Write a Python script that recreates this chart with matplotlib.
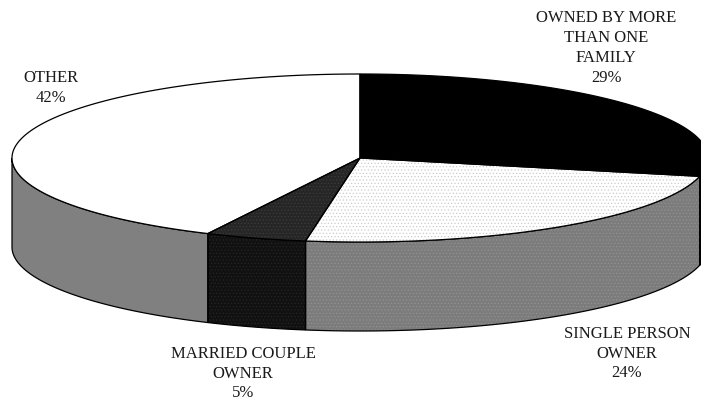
import numpy as np
import matplotlib
matplotlib.use("Agg")
import matplotlib.pyplot as plt
from matplotlib.patches import Polygon

categories = ["OWNED BY MORE\nTHAN ONE\nFAMILY", "SINGLE PERSON\nOWNER", "MARRIED COUPLE\nOWNER", "OTHER"]
labels_pct = ["29%", "24%", "5%", "42%"]
shares = [28.5, 24.0, 4.7, 42.8]

top_face = ["#000000", "#ffffff", "#262626", "#ffffff"]
top_dots = [None, "#cccccc", "#3c3c3c", None]
side_face = ["#000000", "#7c7c7c", "#111111", "#808080"]
side_dots = [None, "#929292", "#262626", None]
label_xy = [(606, 48), (627, 353.5), (243, 373.5), (51, 88)]

cx, cy, rx, ry, depth = 360, 158, 348, 84, 89

plt.rcParams["font.family"] = ["Liberation Serif"]
plt.rcParams["hatch.linewidth"] = 0.5
fig = plt.figure(figsize=(7.01, 4.0), dpi=100)
ax = fig.add_axes([0, 0, 1, 1])
ax.set_xlim(0, 701)
ax.set_ylim(400, 0)
ax.axis("off")


def arc(a0, a1, dy=0.0):
    t = np.radians(np.linspace(a0, a1, 200))
    return np.column_stack([cx + rx * np.sin(t), cy + dy - ry * np.cos(t)])


edges = np.concatenate([[0], np.cumsum(shares)]) / sum(shares) * 360


def shape(xy, face, dots, z):
    ax.add_patch(Polygon(xy, closed=True, facecolor=face, edgecolor="none", zorder=z))
    if dots:
        ax.add_patch(Polygon(xy, closed=True, facecolor="none", edgecolor=dots,
                             hatch=".....", linewidth=0, zorder=z + 0.1))
    ax.add_patch(Polygon(xy, closed=True, facecolor="none", edgecolor="black",
                         linewidth=0.9, zorder=z + 0.2))


# visible side wall: clockwise angles 90..270 from the top
for i in range(4):
    a0, a1 = max(edges[i], 90), min(edges[i + 1], 270)
    if a1 > a0:
        upper = arc(a0, a1)
        lower = arc(a1, a0, depth)
        shape(np.vstack([upper, lower]), side_face[i], side_dots[i], 2)

# top face
for i in range(4):
    xy = np.vstack([[[cx, cy]], arc(edges[i], edges[i + 1])])
    shape(xy, top_face[i], top_dots[i], 3)

for name, pct, (x, y) in zip(categories, labels_pct, label_xy):
    ax.text(x, y, name + "\n" + pct, ha="center", va="center", fontsize=12,
            color="#1a1a1a", linespacing=1.32, zorder=5)

fig.savefig("out.png", dpi=100)
